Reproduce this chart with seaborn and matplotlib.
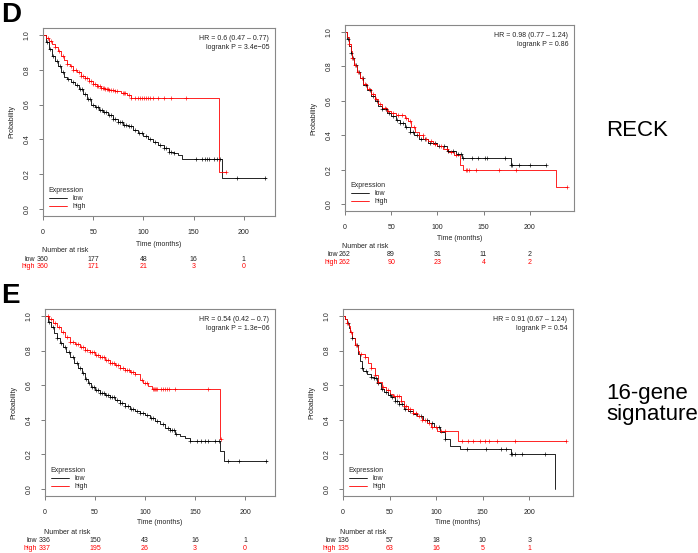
import numpy as np
import matplotlib
matplotlib.use("Agg")
import matplotlib.pyplot as plt
import matplotlib.transforms as mtransforms
from matplotlib.lines import Line2D
import seaborn as sns

# ---- panel D, left (RECK) ----
DL_LOW_T = [0, 3, 6, 9, 12, 15, 18, 21, 24, 28, 32, 36, 40, 44, 48, 52, 56, 60, 65, 70, 75, 80, 85, 90,
            95, 100, 105, 110, 115, 120, 125, 130, 134, 138, 178, 222]
DL_LOW_S = [1.0, 0.96, 0.92, 0.88, 0.85, 0.82, 0.79, 0.76, 0.745, 0.73, 0.715, 0.69, 0.66, 0.63, 0.60, 0.585,
            0.57, 0.555, 0.54, 0.52, 0.50, 0.48, 0.475, 0.455, 0.435, 0.42, 0.40, 0.385, 0.37, 0.35, 0.33,
            0.32, 0.31, 0.29, 0.18, 0.18]
DL_LOW_C = [4, 7, 10, 14, 17, 20, 25, 30, 34, 37, 39, 42, 45, 47, 50, 53, 55, 57, 59, 61, 63, 66, 68, 70, 72,
            75, 77, 79, 81, 83, 86, 88, 92, 96, 99, 103, 107, 112, 116, 120, 122, 125, 127, 130, 152, 158,
            161, 163, 165, 170, 173, 176, 193, 221]
DL_HIGH_T = [0, 3, 6, 9, 12, 15, 18, 21, 24, 27, 30, 34, 38, 42, 46, 50, 54, 58, 62, 66, 72, 78, 84, 88,
             175, 182]
DL_HIGH_S = [1.0, 0.98, 0.965, 0.95, 0.93, 0.91, 0.88, 0.855, 0.835, 0.82, 0.80, 0.785, 0.765, 0.75, 0.735,
             0.72, 0.705, 0.695, 0.69, 0.685, 0.68, 0.665, 0.655, 0.64, 0.21, 0.21]
DL_HIGH_C = [5, 8, 12, 16, 20, 24, 28, 30, 33, 36, 38, 40, 42, 44, 46, 48, 50, 52, 54, 55, 57, 58, 60, 61,
             62, 64, 65, 66, 68, 70, 72, 74, 80, 81, 82, 86, 88, 92, 95, 97, 99, 101, 103, 105, 107, 110,
             115, 120, 127, 142, 182]
DL_HR = "HR = 0.6 (0.47 \u2013 0.77)\nlogrank P = 3.4e\u221205"
DL_RISK_LOW = [360, 177, 48, 16, 1]
DL_RISK_HIGH = [360, 171, 21, 3, 0]

# ---- panel D, right (RECK) ----
DR_LOW_T = [0, 2, 4, 6, 8, 10, 13, 16, 20, 24, 28, 32, 36, 40, 45, 50, 55, 60, 65, 70, 75, 80, 90, 100,
            110, 120, 127, 180, 218]
DR_LOW_S = [1.0, 0.96, 0.92, 0.88, 0.85, 0.81, 0.77, 0.73, 0.69, 0.66, 0.63, 0.60, 0.57, 0.55, 0.53, 0.51,
            0.49, 0.47, 0.45, 0.42, 0.40, 0.38, 0.355, 0.335, 0.31, 0.29, 0.27, 0.23, 0.23]
DR_LOW_C = [3, 6, 9, 12, 15, 19, 23, 27, 30, 35, 40, 44, 48, 52, 56, 60, 63, 66, 70, 74, 78, 82, 87, 92,
            97, 102, 107, 112, 117, 122, 126, 128, 137, 144, 152, 154, 173, 180, 181, 188, 200, 218]
DR_HIGH_T = [0, 2, 4, 6, 8, 10, 13, 16, 20, 24, 28, 32, 36, 40, 45, 50, 55, 60, 65, 68, 72, 76, 80, 85,
             90, 95, 100, 106, 112, 118, 124, 128, 228, 240]
DR_HIGH_S = [1.0, 0.97, 0.93, 0.89, 0.85, 0.81, 0.77, 0.73, 0.70, 0.67, 0.64, 0.61, 0.58, 0.56, 0.54,
             0.53, 0.52, 0.515, 0.50, 0.48, 0.45, 0.42, 0.40, 0.38, 0.365, 0.35, 0.335, 0.32, 0.30, 0.285,
             0.225, 0.20, 0.10, 0.10]
DR_HIGH_C = [4, 8, 11, 14, 18, 22, 26, 30, 34, 38, 43, 47, 52, 57, 62, 66, 70, 75, 80, 84, 88, 93, 98,
             104, 110, 115, 120, 131, 132, 134, 142, 167, 185, 240]
DR_HR = "HR = 0.98 (0.77 \u2013 1.24)\nlogrank P = 0.86"
DR_RISK_LOW = [262, 89, 31, 11, 2]
DR_RISK_HIGH = [262, 90, 23, 4, 2]

# ---- panel E, left (16-gene signature) ----
EL_LOW_T = [0, 3, 6, 9, 12, 15, 18, 21, 25, 29, 33, 37, 40, 43, 46, 50, 55, 60, 65, 70, 75, 80, 85, 90,
            95, 100, 105, 110, 115, 120, 125, 130, 135, 140, 145, 175, 179, 222]
EL_LOW_S = [1.0, 0.965, 0.935, 0.90, 0.87, 0.845, 0.82, 0.79, 0.765, 0.73, 0.70, 0.67, 0.635, 0.61, 0.59,
            0.575, 0.555, 0.545, 0.53, 0.515, 0.495, 0.48, 0.465, 0.45, 0.44, 0.425, 0.41, 0.395, 0.375,
            0.355, 0.34, 0.32, 0.305, 0.295, 0.275, 0.22, 0.165, 0.165]
EL_LOW_C = [4, 8, 12, 16, 20, 24, 28, 32, 35, 38, 41, 44, 47, 49, 51, 53, 55, 57, 59, 61, 63, 65, 67, 69,
            72, 75, 77, 80, 83, 86, 88, 92, 95, 98, 102, 106, 108, 112, 118, 123, 125, 127, 129, 131, 145,
            152, 156, 160, 163, 170, 174, 183, 194, 221]
EL_HIGH_T = [0, 4, 8, 12, 16, 20, 25, 30, 35, 40, 45, 50, 55, 60, 65, 70, 75, 80, 85, 90, 95, 98, 103,
             107, 175, 176]
EL_HIGH_S = [1.0, 0.98, 0.96, 0.935, 0.91, 0.88, 0.85, 0.835, 0.82, 0.805, 0.79, 0.775, 0.76, 0.745, 0.73,
             0.715, 0.70, 0.685, 0.675, 0.665, 0.63, 0.61, 0.595, 0.58, 0.29, 0.29]
EL_HIGH_C = [3, 6, 10, 14, 18, 22, 25, 28, 31, 33, 36, 38, 40, 42, 45, 47, 49, 51, 53, 55, 57, 59, 61, 63,
             65, 67, 69, 71, 73, 75, 78, 80, 82, 84, 86, 88, 90, 97, 100, 102, 108, 109, 110, 111, 112,
             116, 118, 120, 122, 124, 130, 163, 176]
EL_HR = "HR = 0.54 (0.42 \u2013 0.7)\nlogrank P = 1.3e\u221206"
EL_RISK_LOW = [336, 150, 43, 16, 1]
EL_RISK_HIGH = [337, 195, 26, 3, 0]

# ---- panel E, right (16-gene signature) ----
ER_LOW_T = [0, 2, 4, 6, 8, 10, 13, 16, 18, 20, 22, 26, 30, 33, 37, 41, 44, 48, 52, 56, 60, 65, 70, 75,
            80, 86, 92, 98, 104, 110, 115, 126, 180, 228]
ER_LOW_S = [1.0, 0.98, 0.96, 0.93, 0.91, 0.87, 0.83, 0.78, 0.74, 0.70, 0.68, 0.665, 0.65, 0.64, 0.61,
            0.58, 0.56, 0.545, 0.53, 0.51, 0.49, 0.465, 0.45, 0.435, 0.42, 0.40, 0.38, 0.36, 0.33, 0.29,
            0.25, 0.23, 0.20, 0.0]
ER_LOW_C = [5, 10, 15, 20, 25, 30, 33, 35, 38, 42, 46, 50, 53, 56, 58, 60, 63, 67, 72, 78, 84, 90, 96,
            103, 110, 133, 154, 170, 175, 180, 181, 185, 192, 217]
ER_HIGH_T = [0, 2, 4, 6, 8, 10, 13, 16, 17, 24, 27, 30, 34, 38, 42, 46, 50, 54, 58, 62, 65, 70, 75, 80,
             85, 90, 95, 101, 124, 240]
ER_HIGH_S = [1.0, 0.98, 0.96, 0.94, 0.91, 0.87, 0.83, 0.80, 0.78, 0.76, 0.73, 0.70, 0.66, 0.62, 0.59,
             0.57, 0.55, 0.54, 0.535, 0.51, 0.48, 0.46, 0.44, 0.42, 0.40, 0.38, 0.36, 0.335, 0.275, 0.275]
ER_HIGH_C = [4, 9, 14, 19, 24, 30, 34, 38, 43, 48, 55, 58, 60, 62, 65, 68, 70, 72, 75, 78, 82, 85, 88, 92,
             96, 100, 105, 110, 128, 134, 140, 147, 152, 157, 165, 185, 240]
ER_HR = "HR = 0.91 (0.67 \u2013 1.24)\nlogrank P = 0.54"
ER_RISK_LOW = [136, 57, 18, 10, 3]
ER_RISK_HIGH = [135, 63, 16, 5, 1]

RISK_TIMES = [0, 50, 100, 150, 200]
GROUPS = ["low", "high"]
ROW_LABELS = ["D", "E"]
ROW_NAMES = ["RECK", "16-gene\nsignature"]

sns.set_theme(style="white")
plt.rcParams["font.family"] = ["Liberation Sans", "DejaVu Sans"]

W, H = 698, 553
fig = plt.figure(figsize=(W / 100, H / 100), dpi=100)


def px_axes(left, top, right, bottom):
    return fig.add_axes([left / W, 1 - bottom / H, (right - left) / W, (bottom - top) / H])


def step_value(t, s, x):
    i = np.searchsorted(t, x, side="right") - 1
    return np.asarray(s)[np.clip(i, 0, len(s) - 1)]


def km_panel(ax, xmax, low, high, hr, risk_low, risk_high, y_xlab, y_risk):
    for (t, s, c), col in zip([low, high], ["black", "red"]):
        sns.lineplot(x=t, y=s, drawstyle="steps-post", estimator=None, sort=False,
                     color=col, linewidth=0.6, ax=ax)
        sns.scatterplot(x=c, y=step_value(t, s, c), marker="+", color=col, s=8,
                        linewidth=0.45, ax=ax, legend=False, zorder=3)
    ax.set_xlim(0, xmax)
    ax.set_ylim(-0.04, 1.04)
    ax.set_xticks(RISK_TIMES)
    ax.set_yticks([0, 0.2, 0.4, 0.6, 0.8, 1.0])
    ax.set_yticklabels(["0.0", "0.2", "0.4", "0.6", "0.8", "1.0"], rotation=90, va="center")
    ax.tick_params(direction="out", length=3, width=0.6, color="#666", labelsize=5,
                   labelcolor="#222", pad=6, bottom=True, left=True)
    for sp in ax.spines.values():
        sp.set_color("#888")
        sp.set_linewidth(0.8)
    ax.set_xlabel("")
    ax.set_ylabel("Probability", fontsize=5, color="#222", labelpad=6)
    ax.text(0.975, 0.965, hr, transform=ax.transAxes, ha="right", va="top",
            fontsize=5, color="#222", linespacing=1.4)
    handles = [Line2D([], [], color="black", lw=0.6), Line2D([], [], color="red", lw=0.6)]
    ax.legend(handles, GROUPS, title="Expression", loc="lower left", bbox_to_anchor=(0.0, 0.0),
              frameon=False, alignment="left", fontsize=5, title_fontsize=5,
              handlelength=2.6, labelspacing=0.2, borderaxespad=0.4)

    tr = mtransforms.blended_transform_factory(ax.transData, fig.transFigure)
    ax.text(0.5, 1 - y_xlab / H, "Time (months)", transform=mtransforms.blended_transform_factory(
        ax.transAxes, fig.transFigure), ha="center", va="center", fontsize=5, color="#222")
    ax.text(22, 1 - y_risk[0] / H, "Number at risk", transform=tr, ha="center", va="center",
            fontsize=5, color="#222")
    for row, vals, col in zip(y_risk[1:], [risk_low, risk_high], ["#222", "red"]):
        for x, v in zip(RISK_TIMES, vals):
            ax.text(x, 1 - row / H, str(v), transform=tr, ha="center", va="center",
                    fontsize=5, color=col)
    for row, g, col in zip(y_risk[1:], GROUPS, ["#222", "red"]):
        ax.text(-8, 1 - row / H, g, transform=tr, ha="right", va="center", fontsize=5, color=col)


ax1 = px_axes(43, 28, 275, 216)
km_panel(ax1, 231, (DL_LOW_T, DL_LOW_S, DL_LOW_C), (DL_HIGH_T, DL_HIGH_S, DL_HIGH_C), DL_HR,
         DL_RISK_LOW, DL_RISK_HIGH, 245, (250, 259, 267))
ax2 = px_axes(345, 25, 574, 211)
km_panel(ax2, 248, (DR_LOW_T, DR_LOW_S, DR_LOW_C), (DR_HIGH_T, DR_HIGH_S, DR_HIGH_C), DR_HR,
         DR_RISK_LOW, DR_RISK_HIGH, 239, (246, 255, 263))
ax3 = px_axes(45, 309, 275, 496)
km_panel(ax3, 230, (EL_LOW_T, EL_LOW_S, EL_LOW_C), (EL_HIGH_T, EL_HIGH_S, EL_HIGH_C), EL_HR,
         EL_RISK_LOW, EL_RISK_HIGH, 523, (532, 540, 548))
ax4 = px_axes(343, 309, 573, 496)
km_panel(ax4, 247, (ER_LOW_T, ER_LOW_S, ER_LOW_C), (ER_HIGH_T, ER_HIGH_S, ER_HIGH_C), ER_HR,
         ER_RISK_LOW, ER_RISK_HIGH, 523, (532, 540, 548))

fig.text(1 / W, 1 - 15 / H, ROW_LABELS[0], fontsize=20, fontweight="bold", va="center", ha="left",
         color="black")
fig.text(1 / W, 1 - 296 / H, ROW_LABELS[1], fontsize=20, fontweight="bold", va="center", ha="left",
         color="black")
fig.text(606 / W, 1 - 131 / H, ROW_NAMES[0], fontsize=16, va="center", ha="left", color="black")
fig.text(606 / W, 1 - 404 / H, ROW_NAMES[1], fontsize=16, va="center", ha="left", linespacing=1.0,
         color="black")

fig.savefig("out.png", dpi=100, facecolor="white")
